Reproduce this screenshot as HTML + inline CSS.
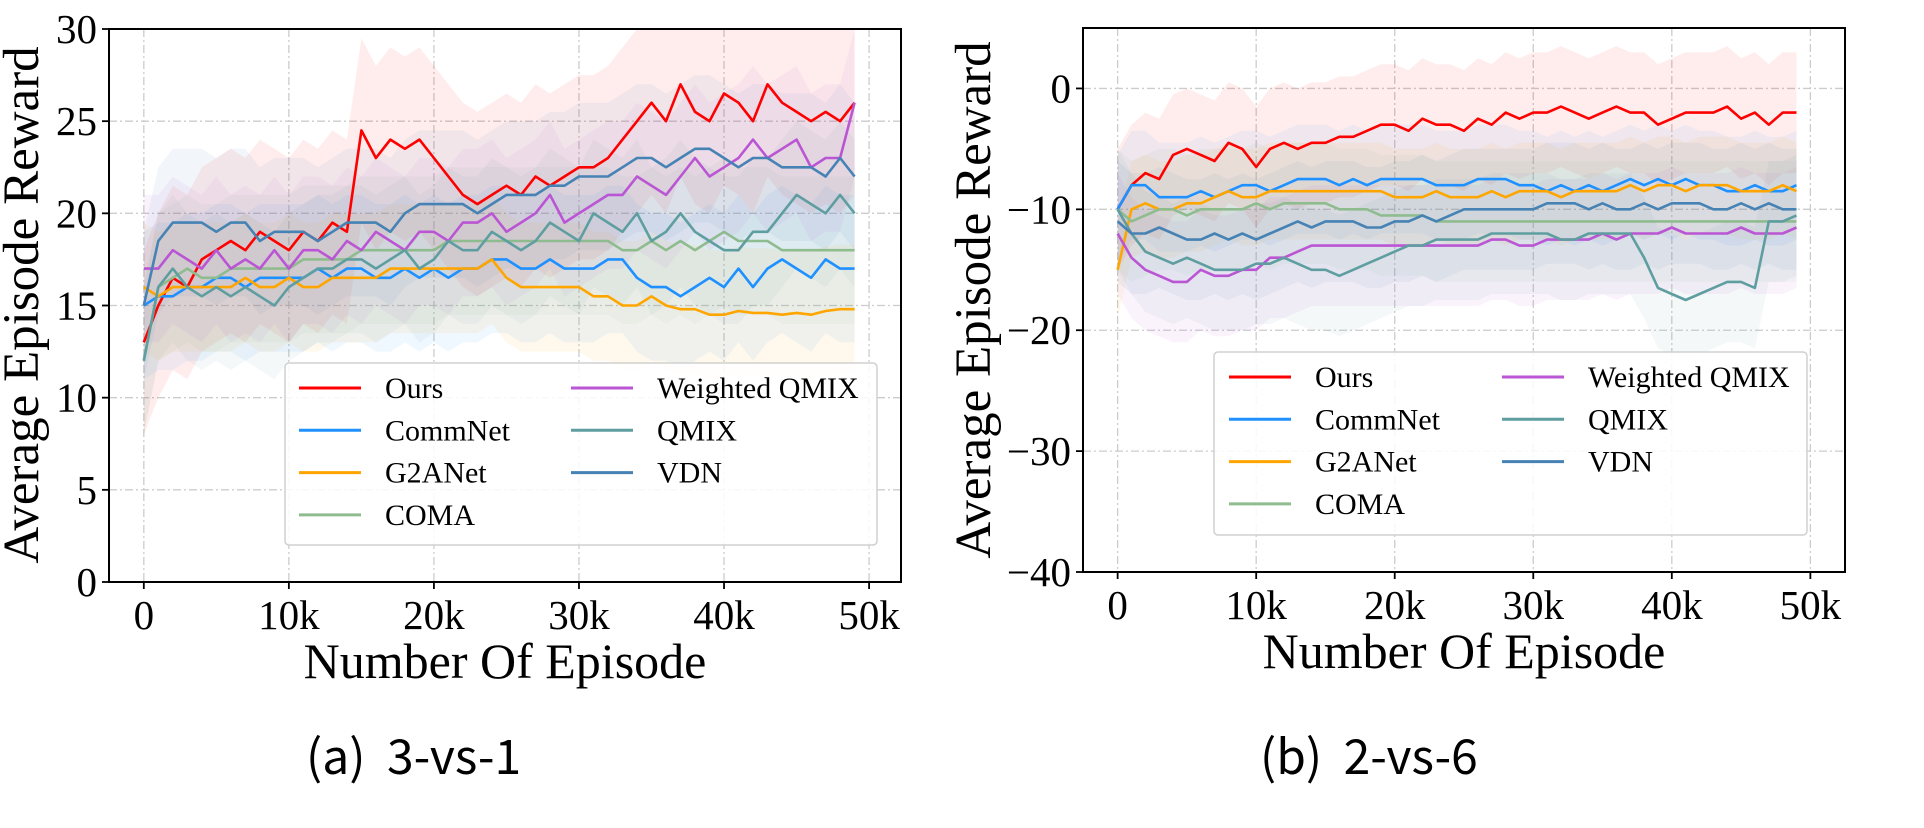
<!DOCTYPE html>
<html><head><meta charset="utf-8">
<style>
html,body{margin:0;padding:0;background:#fff;}
svg{display:block;}
</style></head>
<body>
<svg id="fig" width="1924" height="828" viewBox="0 0 1924 828" xmlns="http://www.w3.org/2000/svg">
<text x="306" y="774" font-size="48" font-family="'Noto Sans CJK SC','Liberation Sans',sans-serif">(a)&#160;&#160;3-vs-1</text>
<text x="1260" y="774" font-size="48" font-family="'Noto Sans CJK SC','Liberation Sans',sans-serif">(b)&#160;&#160;2-vs-6</text>
</svg>
<script>
const names = ["Ours","CommNet","G2ANet","COMA","Weighted QMIX","QMIX","VDN"];
const colors = ["#ff0000","#1e90ff","#ffa500","#8fbc8f","#ba55d3","#5f9ea0","#4682b4"];
const episodesK = [0,1,2,3,4,5,6,7,8,9,10,11,12,13,14,15,16,17,18,19,20,21,22,23,24,25,26,27,28,29,30,31,32,33,34,35,36,37,38,39,40,41,42,43,44,45,46,47,48,49];
const xTicks = [0,10,20,30,40,50];
const xTickLabels = ["0","10k","20k","30k","40k","50k"];

// chart A (3-vs-1)
const aOurs = [13,15,16.5,16,17.5,18,18.5,18,19,18.5,18,19,18.5,19.5,19,24.5,23,24,23.5,24,23,22,21,20.5,21,21.5,21,22,21.5,22,22.5,22.5,23,24,25,26,25,27,25.5,25,26.5,26,25,27,26,25.5,25,25.5,25,26];
const aCommNet = [15,15.5,15.5,16,16,16.5,16.5,16,16.5,16.5,16.5,16.5,17,16.5,17,17,16.5,16.5,17,16.5,17,16.5,17,17,17.5,17.5,17,17,17.5,17,17,17,17.5,17.5,16.5,16,16,15.5,16,16.5,16,17,16,17,17.5,17,16.5,17.5,17,17];
const aG2ANet = [16,15.5,16,16,16,16,16,16.5,16,16,16.5,16,16,16.5,16.5,16.5,16.5,17,17,17,17,17,17,17,17.5,16.5,16,16,16,16,16,15.5,15.5,15,15,15.5,15,14.8,14.8,14.5,14.5,14.7,14.6,14.6,14.5,14.6,14.5,14.7,14.8,14.8];
const aCOMA = [12,16,16.5,17,16.5,16.5,17,17,17,17,17,17.5,17.5,17.5,17.5,18,18,18,18,18,18,18.5,18.5,18.5,18.5,18.5,18.5,18.5,18.5,18.5,18.5,18.5,18.5,18,18,18.5,18,18.5,18,18.5,19,18.5,18.5,18.5,18,18,18,18,18,18];
const aWQMIX = [17,17,18,17.5,17,18,17,17.5,17,18,17,18,18,17.5,18.5,18,19,18.5,18,19,19,18.5,19.5,19.5,20,19,19.5,20,21,19.5,20,20.5,21,21,22,21.5,21,22,23,22,22.5,23,24,23,23.5,24,22.5,23,23,26];
const aQMIX = [12,16,17,16,15.5,16,15.5,16,15.5,15,16,16.5,17,17,17.5,17.5,17,17.5,18,17,17.5,18.5,18,18,19,18.5,18,18.5,19.5,19,18.5,20,19.5,19,20,18.5,19,20,19,18.5,18,18,19,19,20,21,20.5,20,21,20];
const aVDN = [15,18.5,19.5,19.5,19.5,19,19.5,19.5,18.5,19,19,19,18.5,19,19.5,19.5,19.5,19,20,20.5,20.5,20.5,20.5,20,20.5,21,21,21,21.5,21.5,22,22,22,22.5,23,23,22.5,23,23.5,23.5,23,22.5,23,23,22.5,22.5,22.5,22,23,22];
const aBand = [5,4,3.5,4,4,4,4];
const aYTicks = [0,5,10,15,20,25,30];

// chart B (2-vs-6)
const bOurs = [-10,-8,-7,-7.5,-5.5,-5,-5.5,-6,-4.5,-5,-6.5,-5,-4.5,-5,-4.5,-4.5,-4,-4,-3.5,-3,-3,-3.5,-2.5,-3,-3,-3.5,-2.5,-3,-2,-2.5,-2,-2,-1.5,-2,-2.5,-2,-1.5,-2,-2,-3,-2.5,-2,-2,-2,-1.5,-2.5,-2,-3,-2,-2];
const bCommNet = [-10,-8,-8,-9,-9,-9,-8.5,-9,-8.5,-8,-8,-8.5,-8,-7.5,-7.5,-7.5,-8,-7.5,-8,-7.5,-7.5,-7.5,-7.5,-8,-8,-8,-7.5,-7.5,-7.5,-8,-8,-8.5,-8,-8.5,-8,-8.5,-8,-7.5,-8,-7.5,-8,-7.5,-8,-8,-8.5,-8.5,-8,-8.5,-8.5,-8];
const bG2ANet = [-15,-10,-9.5,-10,-10,-9.5,-9.5,-9,-8.5,-9,-9,-8.5,-8.5,-8.5,-8.5,-8.5,-8.5,-8.5,-8.5,-8.5,-9,-9,-9,-8.5,-9,-9,-9,-8.5,-9,-8.5,-8.5,-8.5,-9,-8.5,-8.5,-8.5,-8.5,-8,-8.5,-8,-8,-8.5,-8,-8,-8,-8.5,-8.5,-8.5,-8,-8.5];
const bCOMA = [-10,-11,-10.5,-10,-10,-10.5,-10,-10,-10,-10,-9.5,-10,-9.5,-9.5,-9.5,-9.5,-10,-10,-10,-10.5,-10.5,-10.5,-10.5,-11,-11,-11,-11,-11,-11,-11,-11,-11,-11,-11,-11,-11,-11,-11,-11,-11,-11,-11,-11,-11,-11,-11,-11,-11,-11,-11];
const bWQMIX = [-12,-14,-15,-15.5,-16,-16,-15,-15.5,-15.5,-15,-15,-14,-14,-13.5,-13,-13,-13,-13,-13,-13,-13,-13,-13,-13,-13,-13,-13,-12.5,-12.5,-13,-13,-12.5,-12.5,-12.5,-12.5,-12,-12.5,-12,-12,-12,-11.5,-12,-12,-12,-12,-11.5,-12,-12,-12,-11.5];
const bQMIX = [-10,-12,-13.5,-14,-14.5,-14,-14.5,-15,-15,-15,-14.5,-14.5,-14,-14.5,-15,-15,-15.5,-15,-14.5,-14,-13.5,-13,-13,-12.5,-12.5,-12.5,-12.5,-12,-12,-12,-12,-12,-12.5,-12.5,-12,-12,-12,-12,-14,-16.5,-17,-17.5,-17,-16.5,-16,-16,-16.5,-11,-11,-10.5];
const bVDN = [-11,-12,-12,-11.5,-12,-12.5,-12.5,-12,-12.5,-12,-12.5,-12,-11.5,-11,-11.5,-11,-11,-11,-11.5,-11.5,-11,-11,-10.5,-11,-10.5,-10,-10,-10,-10,-10,-10,-9.5,-9.5,-9.5,-10,-9.5,-10,-10,-9.5,-10,-9.5,-9.5,-9.5,-10,-10,-9.5,-10,-9.5,-10,-10];
const bBand = [5,4.5,4,5,5,5,5];
const bYTicks = [-40,-30,-20,-10,0];

const NS = "http://www.w3.org/2000/svg";
const SERIF = "'Liberation Serif', serif";
const svg = document.getElementById("fig");
function mk(tag, attrs, parent){
  const e = document.createElementNS(NS, tag);
  for (const k in attrs) e.setAttribute(k, attrs[k]);
  (parent||svg).appendChild(e);
  return e;
}

function drawChart(cfg){
  const g = mk("g", {});
  
  
  const X = v => cfg.px0 + (v - cfg.xmin) / (cfg.xmax - cfg.xmin) * (cfg.px1 - cfg.px0);
  const Y = v => cfg.py1 - (v - cfg.ymin) / (cfg.ymax - cfg.ymin) * (cfg.py1 - cfg.py0);
  const clipId = cfg.id + "-clip";
  const cp = mk("clipPath", {id: clipId}, g);
  mk("rect", {x: cfg.px0, y: cfg.py0, width: cfg.px1 - cfg.px0, height: cfg.py1 - cfg.py0}, cp);
  xTicks.forEach(t => {
    const l = mk("line", {x1: X(t), x2: X(t), y1: cfg.py0, y2: cfg.py1, stroke: "#cccccc", "stroke-width": 1.3, "stroke-dasharray": "8 3 2 3"}, g);
    
    
  });
  cfg.yTicks.forEach(t => {
    const l = mk("line", {x1: cfg.px0, x2: cfg.px1, y1: Y(t), y2: Y(t), stroke: "#cccccc", "stroke-width": 1.3, "stroke-dasharray": "8 3 2 3"}, g);
    
    
  });
  const plot = mk("g", {"clip-path": "url(#" + clipId + ")"}, g);
  cfg.series.forEach((s, i) => {
    let up = "", dn = "";
    s.forEach((v, j) => { up += (j ? "L" : "M") + X(episodesK[j]).toFixed(1) + "," + Y(v + cfg.band[i]).toFixed(1); });
    for (let j = s.length - 1; j >= 0; j--) dn += "L" + X(episodesK[j]).toFixed(1) + "," + Y(s[j] - cfg.band[i]).toFixed(1);
    const p = mk("path", {d: up + dn + "Z", fill: colors[i], "fill-opacity": 0.07, stroke: "none"}, plot);
    
    
  });
  cfg.series.forEach((s, i) => {
    let d = "";
    s.forEach((v, j) => { d += (j ? "L" : "M") + X(episodesK[j]).toFixed(1) + "," + Y(v).toFixed(1); });
    const p = mk("path", {d: d, fill: "none", stroke: colors[i], "stroke-width": 2.6, "stroke-linejoin": "round"}, plot);
    
    
  });
  const fr = mk("rect", {x: cfg.px0, y: cfg.py0, width: cfg.px1 - cfg.px0, height: cfg.py1 - cfg.py0, fill: "none", stroke: "#000", "stroke-width": 2}, g);
  
  
  xTicks.forEach((t, i) => {
    mk("line", {x1: X(t), x2: X(t), y1: cfg.py1, y2: cfg.py1 + 7, stroke: "#000", "stroke-width": 1.8}, g);
    const tx = mk("text", {x: X(t), y: cfg.py1 + 47, "text-anchor": "middle", "font-size": 41, "font-family": SERIF}, g);
    tx.textContent = xTickLabels[i];
    
    
  });
  cfg.yTicks.forEach(t => {
    mk("line", {x1: cfg.px0 - 7, x2: cfg.px0, y1: Y(t), y2: Y(t), stroke: "#000", "stroke-width": 1.8}, g);
    const tx = mk("text", {x: cfg.px0 - 12, y: Y(t) + 14, "text-anchor": "end", "font-size": 41, "font-family": SERIF}, g);
    tx.textContent = t < 0 ? "\u2212" + Math.abs(t) : String(t);
    
    
  });
  const xt = mk("text", {x: (cfg.px0 + cfg.px1) / 2, y: cfg.xTitleY, "text-anchor": "middle", "font-size": 50, "font-family": SERIF}, g);
  xt.textContent = "Number Of Episode";
  
  
  const yt = mk("text", {x: 0, y: 0, "text-anchor": "middle", "font-size": 51, "font-family": SERIF, transform: "translate(" + cfg.yTitleX + "," + cfg.yTitleCY + ") rotate(-90)"}, g);
  yt.textContent = "Average Episode Reward";
  
  
  const L = cfg.legend;
  const lg = mk("g", {}, g);
  
  
  mk("rect", {x: L.x, y: L.y, width: L.w, height: L.h, rx: 4, fill: "#fff", "fill-opacity": 0.85, stroke: "#d0d0d0", "stroke-width": 1.5}, lg);
  names.forEach((n, i) => {
    const col = i < 4 ? 0 : 1, row = i < 4 ? i : i - 4;
    const lx = col ? L.c2 : L.c1, ly = L.r0 + row * L.dr;
    const e = mk("g", {}, lg);
    
    
    mk("line", {x1: lx, x2: lx + 62, y1: ly, y2: ly, stroke: colors[i], "stroke-width": 3}, e);
    const t = mk("text", {x: lx + 86, y: ly + 10, "font-size": 30, "font-family": SERIF}, e);
    t.textContent = n;
  });
}

drawChart({id: "chart-3vs1", px0: 109, px1: 901, py0: 29, py1: 582, xmin: -2.4, xmax: 52.2, ymin: 0, ymax: 30,
  yTicks: aYTicks, series: [aOurs, aCommNet, aG2ANet, aCOMA, aWQMIX, aQMIX, aVDN], band: aBand,
  xTitleY: 678, yTitleX: 38, yTitleCY: 305,
  legend: {x: 285, y: 363, w: 592, h: 182, c1: 299, c2: 571, r0: 388, dr: 42.3}});
drawChart({id: "chart-2vs6", px0: 1083, px1: 1845, py0: 28, py1: 572, xmin: -2.5, xmax: 52.5, ymin: -40, ymax: 5,
  yTicks: bYTicks, series: [bOurs, bCommNet, bG2ANet, bCOMA, bWQMIX, bQMIX, bVDN], band: bBand,
  xTitleY: 668, yTitleX: 990, yTitleCY: 300,
  legend: {x: 1214, y: 352, w: 593, h: 183, c1: 1229, c2: 1502, r0: 377, dr: 42.3}});
</script>
</body></html>
